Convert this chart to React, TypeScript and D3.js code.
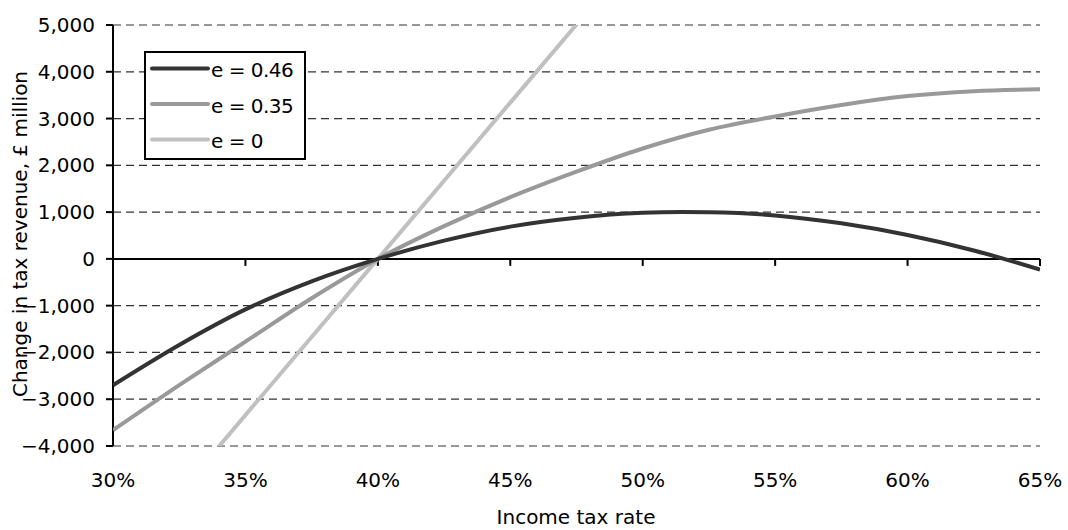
import React from "react";
import * as d3 from "d3";

const xTicks = [30, 35, 40, 45, 50, 55, 60, 65];
const yTicks = [-4000, -3000, -2000, -1000, 0, 1000, 2000, 3000, 4000, 5000];

const rates = [30, 32.5, 35, 37.5, 40, 42.5, 45, 47.5, 50, 52.5, 55, 57.5, 60, 62.5, 65];
const e046 = [-2700, -1840, -1080, -480, 0, 390, 690, 880, 985, 995, 930, 760, 510, 180, -230];
const e035 = [-3660, -2700, -1770, -840, 0, 700, 1320, 1865, 2360, 2760, 3045, 3290, 3480, 3585, 3625];
const e0Rates = [30, 35, 40, 45, 50];
const e0 = [-6680, -3340, 0, 3340, 6680];

const seriesNames = ["e = 0.46", "e = 0.35", "e = 0"];
const seriesColors = ["#333333", "#999999", "#c0c0c0"];

const W = 1068;
const H = 530;
const FONT = "DejaVu Sans";

export default function App() {
  const x = d3.scaleLinear().domain([30, 65]).range([113, 1040]);
  const y = d3.scaleLinear().domain([-4000, 5000]).range([446, 25]);

  const line = d3
    .line<[number, number]>()
    .x((d) => x(d[0]))
    .y((d) => y(d[1]))
    .curve(d3.curveCatmullRom.alpha(0.5));
  const straight = d3
    .line<[number, number]>()
    .x((d) => x(d[0]))
    .y((d) => y(d[1]));

  const series: { name: string; color: string; d: string }[] = [
    { name: seriesNames[0], color: seriesColors[0], d: line(rates.map((r, i) => [r, e046[i]] as [number, number])) || "" },
    { name: seriesNames[1], color: seriesColors[1], d: line(rates.map((r, i) => [r, e035[i]] as [number, number])) || "" },
    { name: seriesNames[2], color: seriesColors[2], d: straight(e0Rates.map((r, i) => [r, e0[i]] as [number, number])) || "" },
  ];

  const [x0, x1] = x.range();
  const yTop = y(5000);
  const yBot = y(-4000);

  return (
    <svg width={W} height={H} style={{ position: "absolute", left: 0, top: 0, background: "#fff" }} fontFamily={FONT}>
      <defs>
        <clipPath id="plot">
          <rect x={x0} y={yTop} width={x1 - x0} height={yBot - yTop} />
        </clipPath>
      </defs>
      {/* gridlines */}
      {yTicks
        .filter((t) => t !== 0)
        .map((t) => (
          <line key={t} x1={x0} x2={x1} y1={y(t)} y2={y(t)} stroke="#333" strokeWidth={1.2} strokeDasharray="8,5" />
        ))}
      {/* x axis at zero */}
      <line x1={x0} x2={x1} y1={y(0)} y2={y(0)} stroke="#000" strokeWidth={2} />
      {xTicks.map((t) => (
        <line key={t} x1={x(t)} x2={x(t)} y1={y(0)} y2={y(0) + 7} stroke="#000" strokeWidth={2} />
      ))}
      {/* y axis */}
      <line x1={x0} x2={x0} y1={yTop} y2={yBot} stroke="#000" strokeWidth={2} />
      {yTicks.map((t) => (
        <line key={t} x1={x0 - 7} x2={x0} y1={y(t)} y2={y(t)} stroke="#000" strokeWidth={2} />
      ))}
      {/* series */}
      <g clipPath="url(#plot)">
        {series
          .slice()
          .reverse()
          .map((s) => (
            <path key={s.name} d={s.d} fill="none" stroke={s.color} strokeWidth={4} />
          ))}
      </g>
      {/* y tick labels */}
      {yTicks.map((t) => (
        <text key={t} x={95} y={y(t) + 7} textAnchor="end" fontSize={20} fill="#000">
          {d3.format(",")(t)}
        </text>
      ))}
      {/* x tick labels */}
      {xTicks.map((t) => (
        <text key={t} x={x(t)} y={487} textAnchor="middle" fontSize={20} fill="#000">
          {t + "%"}
        </text>
      ))}
      {/* axis titles */}
      <text x={576} y={524} textAnchor="middle" fontSize={20} fill="#000">
        Income tax rate
      </text>
      <text transform={`translate(27,234) rotate(-90)`} textAnchor="middle" fontSize={20} fill="#000">
        Change in tax revenue, £ million
      </text>
      {/* legend */}
      <rect x={145} y={52} width={160} height={107} fill="#fff" stroke="#000" strokeWidth={2} />
      {series.map((s, i) => {
        const ly = 68.5 + i * 35.5;
        return (
          <g key={s.name}>
            <line x1={152} x2={208} y1={ly} y2={ly} stroke={s.color} strokeWidth={4} strokeLinecap="round" />
            <text x={211} y={ly + 8.5} fontSize={20} fill="#000" letterSpacing={-0.5}>
              {s.name}
            </text>
          </g>
        );
      })}
    </svg>
  );
}
